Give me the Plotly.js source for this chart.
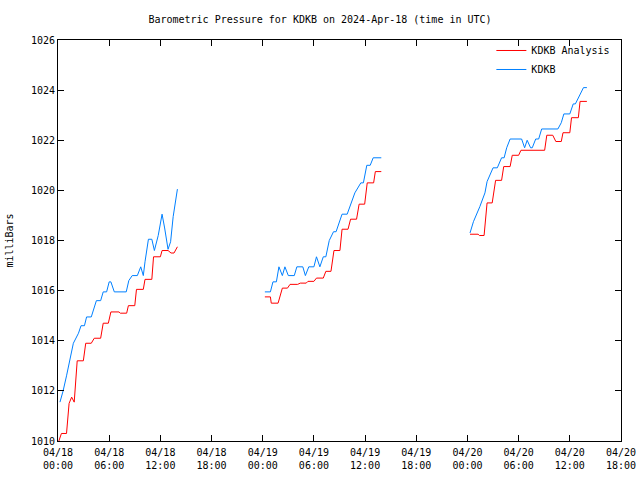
<!DOCTYPE html>
<html>
<head>
<meta charset="utf-8">
<script src="https://cdn.plot.ly/plotly-3.0.1.min.js"></script>
<style>html,body{margin:0;padding:0;background:#fff;}#chart{width:640px;height:480px;}</style>
</head>
<body>
<div id="chart"></div>
<script>
// Hours since 2024-04-18 00:00 UTC; null separates the gaps in the record
const analysisHours = [0.1,0.4,1.0,1.3,1.6,1.9,2.25,2.97,3.25,3.9,4.25,5.0,5.3,5.9,6.2,7.15,7.3,8.05,8.25,9.0,9.2,10.0,10.2,11.0,11.2,12.0,12.2,12.9,13.25,13.6,14.0,
  null,
  24.25,24.9,25.0,25.8,26.3,26.9,27.2,28.1,28.4,29.1,29.3,30.0,30.3,31.1,31.4,32.0,32.35,33.05,33.3,34.0,34.3,35.0,35.3,35.95,36.25,37.0,37.2,37.9,
  null,
  48.3,49.25,49.4,49.95,50.3,50.9,51.3,52.0,52.25,53.0,53.25,54.0,54.27,57.05,57.3,58.0,58.36,59.0,59.2,60.0,60.2,61.0,61.2,62.0];
const analysisValues = [1010.0,1010.3,1010.3,1011.5,1011.75,1011.55,1013.2,1013.2,1013.9,1013.9,1014.1,1014.1,1014.7,1014.7,1015.15,1015.15,1015.1,1015.1,1015.4,1015.4,1016.05,1016.05,1016.45,1016.45,1017.35,1017.35,1017.6,1017.6,1017.5,1017.5,1017.75,
  null,
  1015.75,1015.75,1015.5,1015.5,1016.1,1016.1,1016.25,1016.25,1016.3,1016.3,1016.37,1016.37,1016.5,1016.5,1016.77,1016.77,1017.6,1017.6,1018.45,1018.45,1018.85,1018.85,1019.45,1019.45,1020.3,1020.3,1020.75,1020.75,
  null,
  1018.25,1018.25,1018.2,1018.2,1019.5,1019.5,1020.4,1020.4,1020.95,1020.95,1021.4,1021.4,1021.6,1021.6,1022.2,1022.2,1021.95,1021.95,1022.3,1022.3,1022.9,1022.9,1023.55,1023.55];

const observedHours = [0.23,0.6,1.0,1.4,1.8,2.4,2.7,3.1,3.35,3.9,4.5,5.0,5.3,5.7,6.0,6.2,6.6,8.0,8.3,8.7,9.3,9.7,10.0,10.2,10.6,11.0,11.3,11.75,12.2,12.5,12.9,13.2,13.5,14.0,
  null,
  24.25,24.9,25.2,25.6,25.9,26.3,26.6,27.0,27.7,28.0,28.7,29.0,29.4,30.0,30.3,30.7,31.1,31.4,31.8,32.3,32.6,33.3,33.9,34.8,35.5,35.8,36.2,36.6,36.95,37.9,
  null,
  48.3,48.7,49.45,50.05,50.3,51.0,51.5,52.0,52.3,52.6,53.0,54.35,54.7,55.0,55.4,55.6,56.0,56.35,56.7,58.6,59.0,59.3,60.0,60.4,60.65,61.05,61.6,62.0];
const observedValues = [1011.55,1012.0,1012.6,1013.25,1013.9,1014.3,1014.6,1014.6,1014.95,1014.95,1015.6,1015.6,1015.95,1015.95,1016.35,1016.35,1015.95,1015.95,1016.4,1016.6,1016.6,1016.95,1016.6,1017.15,1018.05,1018.05,1017.6,1018.2,1019.05,1018.5,1017.65,1017.95,1018.95,1020.05,
  null,
  1015.95,1015.95,1016.35,1016.35,1016.95,1016.6,1016.95,1016.6,1016.6,1016.95,1016.95,1016.6,1016.95,1016.95,1017.35,1016.95,1017.35,1017.35,1018.0,1018.35,1018.35,1019.05,1019.05,1019.9,1020.3,1020.3,1021.0,1021.0,1021.3,1021.3,
  null,
  1018.3,1018.75,1019.35,1019.9,1020.35,1020.9,1020.9,1021.3,1021.3,1021.7,1022.05,1022.05,1021.7,1022.0,1021.7,1021.7,1022.05,1022.05,1022.45,1022.45,1022.7,1023.05,1023.05,1023.45,1023.45,1023.75,1024.1,1024.1];

const seriesNames = ['KDKB Analysis', 'KDKB'];
const yTicks = [1010,1012,1014,1016,1018,1020,1022,1024,1026];

const baseMs = Date.UTC(2024, 3, 18, 0, 0, 0);
function toDate(h) {
  if (h === null) return null;
  const d = new Date(baseMs + h * 3600000);
  return d.toISOString().replace('T', ' ').substring(0, 19);
}

const font = 'DejaVu Sans Mono, monospace';

const traces = [
  {x: analysisHours.map(toDate), y: analysisValues, name: seriesNames[0], type: 'scatter', mode: 'lines',
   line: {color: '#ff0000', width: 1}, connectgaps: false},
  {x: observedHours.map(toDate), y: observedValues, name: seriesNames[1], type: 'scatter', mode: 'lines',
   line: {color: '#0080ff', width: 1}, connectgaps: false}
];

const axisCommon = {
  showline: true, linecolor: '#000', linewidth: 1, mirror: 'ticks',
  ticks: 'inside', ticklen: 6, tickcolor: '#000', showgrid: false, zeroline: false,
  tickfont: {family: font, size: 10, color: '#000'}
};

const layout = {
  width: 640, height: 480,
  paper_bgcolor: '#fff', plot_bgcolor: '#fff',
  margin: {l: 58, r: 19, t: 40, b: 39},
  font: {family: font, size: 10, color: '#000'},
  title: {text: 'Barometric Pressure for KDKB on 2024-Apr-18 (time in UTC)', x: 0.5, xanchor: 'center', y: 0.96, yanchor: 'middle', font: {family: font, size: 10, color: '#000'}},
  xaxis: Object.assign({}, axisCommon, {
    type: 'date', range: [toDate(0), toDate(66)],
    tick0: toDate(0), dtick: 6 * 3600000, tickformat: '%m/%d<br>%H:%M', ticklabelstandoff: 2
  }),
  yaxis: Object.assign({}, axisCommon, {
    range: [1010, 1026], tickvals: yTicks, ticktext: yTicks.map(String),
    title: {text: 'milliBars', standoff: 15, font: {family: font, size: 10, color: '#000'}}
  }),
  legend: {x: 0.99, xanchor: 'right', y: 1.01, yanchor: 'top', bgcolor: 'rgba(0,0,0,0)',
           font: {family: font, size: 10, color: '#000'}, tracegroupgap: 0, itemwidth: 30},
  showlegend: true
};

Plotly.newPlot('chart', traces, layout, {displayModeBar: false, staticPlot: true});
</script>
</body>
</html>
